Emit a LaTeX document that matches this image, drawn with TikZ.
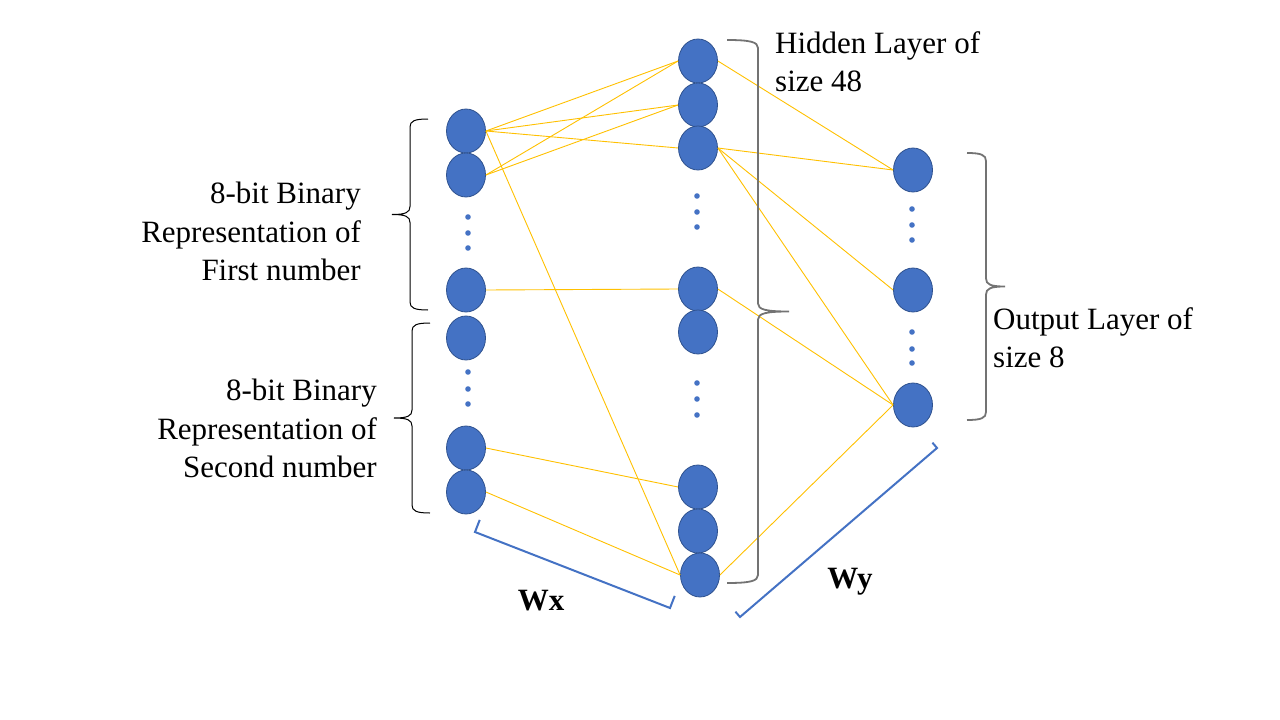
\documentclass[tikz,border=0pt]{standalone}
\usepackage{fontspec}
\setmainfont{Liberation Serif}
\usetikzlibrary{calc}
\usetikzlibrary{shapes.geometric}
\definecolor{neuron}{HTML}{4472C4}
\definecolor{neuronedge}{HTML}{2F528F}
\definecolor{weight}{HTML}{FFC000}
\colorlet{bracegray}{black!55}
\tikzset{
  unit/.style = {ellipse, fill=neuron, draw=neuronedge, line width=0.8pt,
    minimum width=39pt, minimum height=44pt, inner sep=0pt},
  link/.style = {weight, line width=0.9pt},
  layertext/.style = {font=\fontsize{31}{38.5}\selectfont, inner sep=0pt},
  weighttext/.style = {font=\fontsize{31}{31}\selectfont\bfseries, inner sep=0pt, anchor=base},
  weightbar/.style = {neuron, line width=2pt},
  thinbrace/.style = {black, line width=1pt},
  thickbrace/.style = {bracegray, line width=1.8pt}
}
% #1 x of line, #2 top, #3 bottom, #4 half width (sign = side of tip), #5 style
\newcommand{\layerbrace}[5]{%
  \pgfmathsetmacro{\ym}{(#2+#3)/2}
  \draw[#5] ({#1-(#4)},#2) .. controls ({#1-0.25*(#4)},#2) and (#1,{#2+2}) .. (#1,{#2+8})
    -- (#1,{\ym-8}) .. controls (#1,{\ym-2}) and ({#1+0.25*(#4)},\ym) .. ({#1+(#4)},\ym)
    .. controls ({#1+0.25*(#4)},\ym) and (#1,{\ym+2}) .. (#1,{\ym+8})
    -- (#1,{#3-8}) .. controls (#1,{#3-2}) and ({#1-0.25*(#4)},#3) .. ({#1-(#4)},#3);
}
\newcommand{\unitdots}[2]{\foreach \y in {#2} \fill[neuron] (#1,\y) circle (2.8pt);}

\begin{document}
\begin{tikzpicture}[x=1pt,y=-1pt]
  \useasboundingbox (0,0) rectangle (1280,720);
  % input layer
  \foreach \n/\y in {I1/131, I2/175, I3/290, I4/338, I5/448, I6/492}
    \node[unit] (\n) at (466,\y) {};
  \unitdots{468}{217,233,248}
  \unitdots{468}{372,389,404}
  % hidden layer
  \foreach \n/\y in {H1/61, H2/105, H3/148, H4/289, H5/332, H6/487, H7/531}
    \node[unit] (\n) at (698,\y) {};
  \node[unit] (H8) at (700,575) {};
  \unitdots{697}{196,212,227}
  \unitdots{697}{383,399,415}
  % output layer
  \foreach \n/\y in {O1/170, O2/290, O3/405}
    \node[unit] (\n) at (913,\y) {};
  \unitdots{912}{209,225,240}
  \unitdots{912}{332,349,363}
  % weights
  \foreach \a/\b in {I1/H1, I1/H2, I1/H3, I1/H8, I2/H1, I2/H2, I3/H4, I5/H6, I6/H8,
                     H1/O1, H3/O1, H3/O2, H3/O3, H4/O3, H8/O3}
    \draw[link] (\a.east) -- (\b.west);
  % braces
  \layerbrace{410}{119}{310}{-18}{thinbrace}
  \layerbrace{412}{323}{513}{-18}{thinbrace}
  \layerbrace{758}{40}{583}{31}{thickbrace}
  \layerbrace{986}{153}{420}{19}{thickbrace}
  % texts
  \node[layertext, anchor=north east, align=right] (first) at (361,182)
    {8-bit Binary\\Representation of\\First number};
  \node[layertext, anchor=north east, align=right] (second) at (377,379)
    {8-bit Binary\\Representation of\\Second number};
  \node[layertext, anchor=north west, align=left] (hidden) at (775,31)
    {Hidden Layer of\\size 48};
  \node[layertext, anchor=north west, align=left] (output) at (993,307)
    {Output Layer of\\size 8};
  % weight matrices
  \coordinate (wx1) at (475,532);
  \coordinate (wx2) at (670,608);
  \draw[weightbar] ($(wx1)!13pt!90:(wx2)$) -- (wx1) -- (wx2) -- ($(wx2)!13pt!-90:(wx1)$);
  \node[weighttext] (wx) at (541,610) {Wx};
  \coordinate (wy1) at (740,617);
  \coordinate (wy2) at (937,448);
  \draw[weightbar] ($(wy1)!7pt!90:(wy2)$) -- (wy1) -- (wy2) -- ($(wy2)!7pt!-90:(wy1)$);
  \node[weighttext] (wy) at (850,588) {Wy};
\end{tikzpicture}
\end{document}
